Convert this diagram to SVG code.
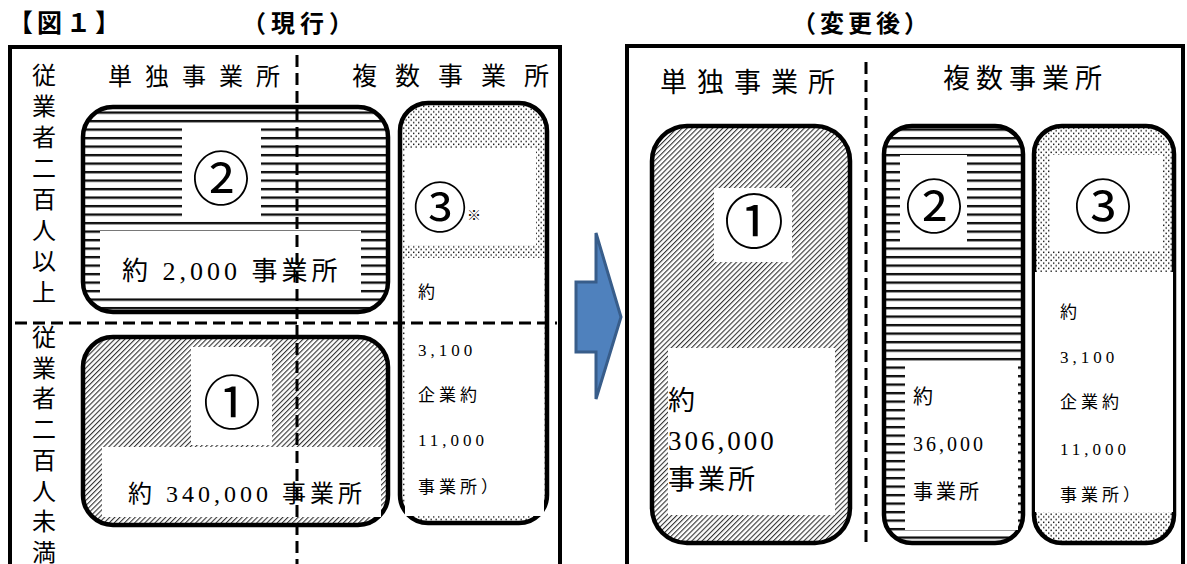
<svg xmlns="http://www.w3.org/2000/svg" width="1187" height="564" viewBox="0 0 1187 564">
<style>
.t{font-family:"Liberation Serif","Noto Sans CJK JP",serif;fill:#000}
.b{font-family:"Noto Sans CJK JP","Liberation Sans",sans-serif;font-weight:bold;fill:#000}
.c{font-family:"Noto Sans CJK JP",sans-serif;fill:#000;text-anchor:middle}
.box{stroke:#000;stroke-width:4.5}
.w{fill:#fff}
.dash{stroke:#000;stroke-width:3;stroke-dasharray:12 6;fill:none}
.frame{fill:#fff;stroke:#000;stroke-width:4}
</style>
<defs>
<pattern id="hl" width="8" height="8.5" patternUnits="userSpaceOnUse">
<rect width="8" height="8.5" fill="#fff"/><rect y="1" width="8" height="1.8" fill="#000"/><rect y="2.8" width="8" height="0.9" fill="#777"/>
</pattern>
<pattern id="dg" width="3.6" height="3.6" patternUnits="userSpaceOnUse" patternTransform="rotate(45)">
<rect width="3.6" height="3.6" fill="#fff"/><rect width="1.1" height="3.6" fill="#333"/>
</pattern>
<pattern id="dt" width="5" height="5.4" patternUnits="userSpaceOnUse">
<rect width="5" height="5.4" fill="#fff"/><rect x="0.5" y="0.5" width="1.4" height="1.4" fill="#111"/><rect x="3" y="3.2" width="1.4" height="1.4" fill="#111"/>
</pattern>
</defs>
<rect width="1187" height="564" fill="#fff"/>
<g id="titles">
<text class="b" x="8" y="32" font-size="25" letter-spacing="4">【図１】</text>
<text class="b" x="242" y="32" font-size="24" letter-spacing="5">（現行）</text>
<text class="b" x="792" y="32" font-size="24" letter-spacing="4">（変更後）</text>
</g>
<g id="frame-current">
<rect class="frame" x="10" y="47" width="550" height="530"/>
</g>
<g id="frame-after">
<rect class="frame" x="627" y="46" width="556" height="530"/>
</g>
<g id="labels-current">
<text class="t" x="108" y="85" font-size="24" letter-spacing="13">単独事業所</text>
<text class="t" x="352" y="85" font-size="25" letter-spacing="18">複数事業所</text>
<text class="t" font-size="24" text-anchor="middle"><tspan x="44" y="84">従</tspan><tspan x="44" dy="31">業</tspan><tspan x="44" dy="31">者</tspan><tspan x="44" dy="31">二</tspan><tspan x="44" dy="31">百</tspan><tspan x="44" dy="31">人</tspan><tspan x="44" dy="31">以</tspan><tspan x="44" dy="31">上</tspan></text>
<text class="t" font-size="24" text-anchor="middle"><tspan x="44" y="346">従</tspan><tspan x="44" dy="30.7">業</tspan><tspan x="44" dy="30.7">者</tspan><tspan x="44" dy="30.7">二</tspan><tspan x="44" dy="30.7">百</tspan><tspan x="44" dy="30.7">人</tspan><tspan x="44" dy="30.7">未</tspan><tspan x="44" dy="30.7">満</tspan></text>
</g>
<g id="box2-current">
<rect class="box" x="83" y="107" width="305" height="205" rx="30" fill="url(#hl)"/>
<rect class="w" x="182" y="125" width="79" height="92"/>
<rect class="w" x="100" y="231" width="261" height="67"/>
<text class="c" x="221" y="200" font-size="58">②</text>
<text class="t" x="122" y="280" font-size="26" letter-spacing="4">約 2,000 事業所</text>
</g>
<g id="box3-current">
<rect class="box" x="400" y="103" width="147" height="420" rx="28" fill="url(#dt)"/>
<rect class="w" x="405" y="148" width="131" height="97"/>
<rect class="w" x="405" y="258" width="139" height="258"/>
<text class="c" x="440" y="228" font-size="54">③</text>
<text class="t" x="467" y="220" font-size="14">※</text>
<text class="t" font-size="17" letter-spacing="4"><tspan x="418" y="298">約</tspan><tspan x="418" y="356">3,100</tspan><tspan x="418" y="401">企業約</tspan><tspan x="418" y="446">11,000</tspan><tspan x="418" y="493">事業所）</tspan></text>
</g>
<g id="box1-current">
<rect class="box" x="83" y="337" width="305" height="188" rx="30" fill="url(#dg)"/>
<rect class="w" x="191" y="347" width="81" height="98"/>
<rect class="w" x="102" y="447" width="279" height="70"/>
<text class="c" x="232" y="424" font-size="58">①</text>
<text class="t" x="128" y="502" font-size="24" letter-spacing="4">約 340,000 事業所</text>
</g>
<g id="dividers-current">
<line class="dash" x1="297" y1="55" x2="297" y2="564"/>
<line class="dash" x1="15" y1="323" x2="557" y2="323"/>
</g>
<g id="labels-after">
<text class="t" x="660" y="92" font-size="27" letter-spacing="10">単独事業所</text>
<text class="t" x="943" y="88" font-size="27" letter-spacing="6">複数事業所</text>
</g>
<g id="box1-after">
<rect class="box" x="652" y="126" width="198" height="417" rx="35" fill="url(#dg)"/>
<rect class="w" x="714" y="188" width="78" height="74"/>
<rect class="w" x="668" y="348" width="167" height="167"/>
<text class="c" x="754" y="244" font-size="60">①</text>
<text class="t" font-size="27" letter-spacing="3"><tspan x="668" y="410">約</tspan><tspan x="668" y="450">306,000</tspan><tspan x="668" y="489">事業所</tspan></text>
</g>
<g id="box2-after">
<rect class="box" x="884" y="126" width="139" height="417" rx="28" fill="url(#hl)"/>
<rect class="w" x="900" y="155" width="67" height="91"/>
<rect class="w" x="905" y="365" width="113" height="165"/>
<text class="c" x="934" y="228" font-size="58">②</text>
<text class="t" font-size="20" letter-spacing="3"><tspan x="913" y="404">約</tspan><tspan x="913" y="451">36,000</tspan><tspan x="913" y="499">事業所</tspan></text>
</g>
<g id="box3-after">
<rect class="box" x="1034" y="126" width="140" height="417" rx="28" fill="url(#dt)"/>
<rect class="w" x="1050" y="155" width="113" height="96"/>
<rect class="w" x="1035" y="272" width="138" height="240"/>
<text class="c" x="1103" y="228" font-size="58">③</text>
<text class="t" font-size="17" letter-spacing="4"><tspan x="1060" y="318">約</tspan><tspan x="1060" y="363">3,100</tspan><tspan x="1060" y="408">企業約</tspan><tspan x="1060" y="455">11,000</tspan><tspan x="1060" y="501">事業所）</tspan></text>
</g>
<g id="dividers-after">
<line class="dash" x1="866" y1="62" x2="866" y2="548"/>
</g>
<g id="connectors">
<polygon points="576,282 596,282 596,233 621,317 596,399 596,352 576,352" fill="#4f81bd" stroke="#385d8a" stroke-width="3" stroke-linejoin="miter"/>
</g>
</svg>
